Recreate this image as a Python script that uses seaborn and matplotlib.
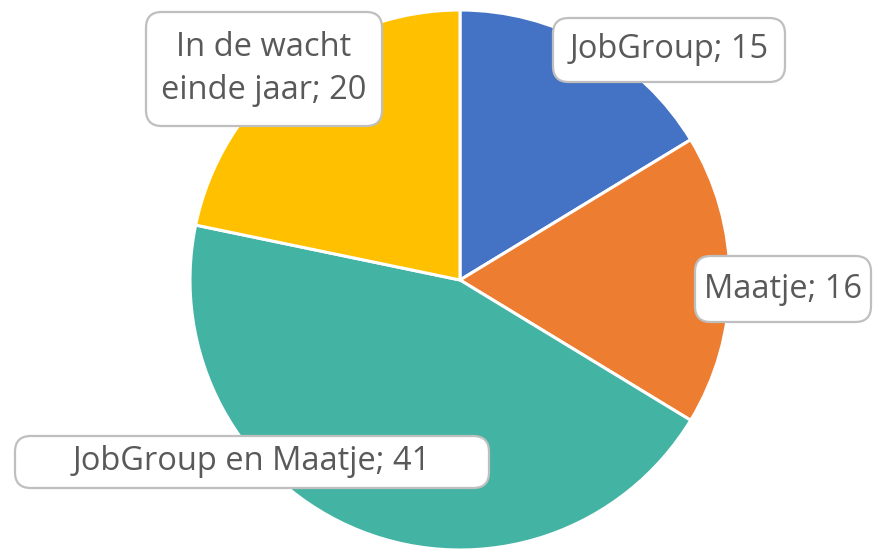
import matplotlib
matplotlib.use("Agg")
import matplotlib.pyplot as plt
import seaborn as sns
from matplotlib.patches import FancyBboxPatch

# data
categories = ["JobGroup", "Maatje", "JobGroup en Maatje", "In de wacht\neinde jaar"]
values = [15, 16, 41, 20]
colors = ["#4472C4", "#ED7D31", "#43B3A3", "#FFC000"]

# label box centres / sizes in figure pixels (x, y from top, w, h)
label_boxes = [
    (669, 50, 232, 64),
    (783, 289, 176, 66),
    (252, 462, 474, 52),
    (264, 69, 236, 114),
]

sns.set_theme(style="white")
plt.rcParams["font.family"] = ["Open Sans", "DejaVu Sans"]

W, H = 874, 550
fig = plt.figure(figsize=(W / 100, H / 100), dpi=100)
R = 270
cx, cy = 460, 280
ax = fig.add_axes([(cx - R) / W, (H - cy - R) / H, 2 * R / W, 2 * R / H])

ax.pie(values, colors=colors, startangle=90, counterclock=False,
       wedgeprops=dict(edgecolor="white", linewidth=2.2))
ax.set_xlim(-1, 1)
ax.set_ylim(-1, 1)
ax.set_aspect("equal")
ax.axis("off")

for cat, val, (bx, by, bw, bh) in zip(categories, values, label_boxes):
    x0 = (bx - bw / 2) / W
    y0 = (H - by - bh / 2) / H
    box = FancyBboxPatch((x0, y0), bw / W, bh / H,
                         boxstyle="round,pad=0,rounding_size=0.018",
                         transform=fig.transFigure, facecolor="white",
                         edgecolor="#BFBFBF", linewidth=1.6, zorder=5,
                         mutation_aspect=W / H)
    fig.add_artist(box)
    fig.text(bx / W, 1 - by / H, f"{cat}; {val}", ha="center", va="center",
             fontsize=23.5, color="#595959", zorder=6, linespacing=1.4)

fig.savefig("out.png", dpi=100)
